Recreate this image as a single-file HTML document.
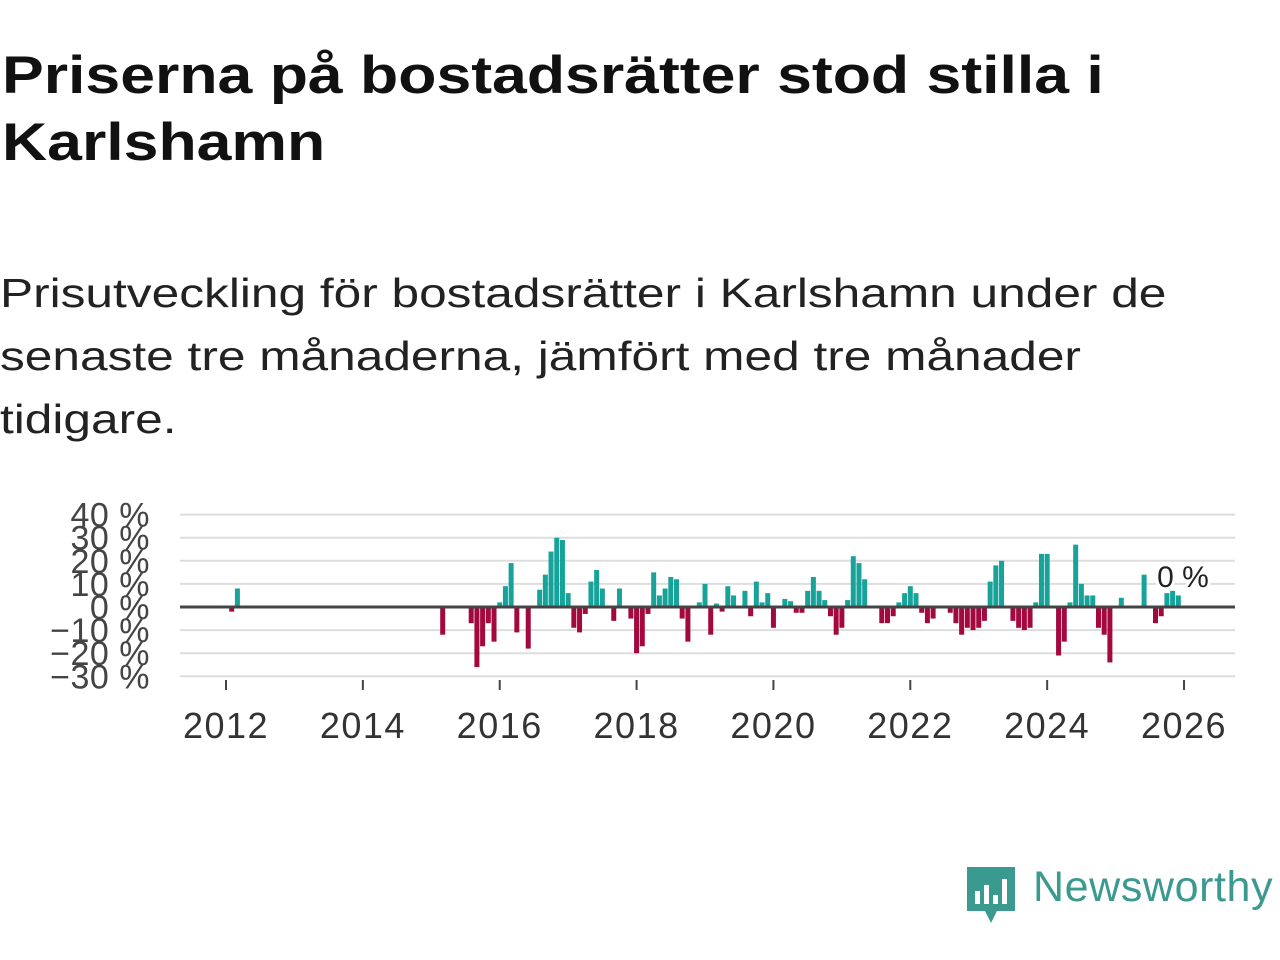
<!DOCTYPE html>
<html><head><meta charset="utf-8">
<style>
body{margin:0;width:1280px;height:960px;background:#fff;overflow:hidden;font-family:"Liberation Sans","DejaVu Sans",sans-serif;}
#title{position:absolute;left:2px;top:42px;font-size:53px;font-weight:bold;line-height:67px;color:#111;margin:0;transform:scaleX(1.18);transform-origin:0 0;white-space:nowrap;}
#subtitle{position:absolute;left:0;top:262px;font-size:41px;line-height:63px;color:#222;margin:0;transform:scaleX(1.21);transform-origin:0 0;white-space:nowrap;}
svg{position:absolute;left:0;top:0;}
</style></head><body>
<h1 id="title">Priserna på bostadsrätter stod stilla i<br>Karlshamn</h1>
<p id="subtitle">Prisutveckling för bostadsrätter i Karlshamn under de<br>senaste tre månaderna, jämfört med tre månader<br>tidigare.</p>
<svg id="chart" width="1280" height="960"></svg>
<div style="position:absolute;left:965px;top:865px;">
<svg width="52" height="62" style="position:absolute;left:0;top:0">
<path d="M2 2 H50 V46 H32 L26 58 L20 46 H2 Z" fill="#3a9a8f"/>
<rect x="10" y="26" width="5" height="13" fill="#fff"/><rect x="19" y="20" width="5" height="19" fill="#fff"/><rect x="28" y="30" width="5" height="9" fill="#fff"/><rect x="37" y="14" width="5" height="25" fill="#fff"/>
</svg>
<span style="position:absolute;left:68px;top:-2px;font-size:43px;letter-spacing:0.6px;color:#3a9a8f;white-space:nowrap">Newsworthy</span>
</div>
<script>
const monthIndex=[1,2,38,43,44,45,46,47,48,49,50,51,53,55,56,57,58,59,60,61,62,63,64,65,66,68,69,71,72,73,74,75,76,77,78,79,80,81,83,84,85,86,87,88,89,91,92,93,94,95,96,98,99,100,101,102,103,104,105,106,107,108,109,110,111,112,115,116,117,118,119,120,121,122,123,124,127,128,129,130,131,132,133,134,135,136,138,139,140,141,142,143,144,146,147,148,149,150,151,152,153,154,155,157,161,163,164,165,166,167];
const values=[-2,8,-12,-7,-26,-17,-7,-15,2,9,19,-11,-18,7.5,14,24,30,29,6,-9,-11,-3,11,16,8,-6,8,-5,-20,-17,-3,15,5,8,13,12,-5,-15,2,10,-12,1.5,-2,9,5,7,-4,11,2,6,-9,3.5,2.5,-2.5,-2.5,7,13,7,3,-4,-12,-9,3,22,19,12,-7,-7,-4,2,6,9,6,-2.5,-7,-5,-2.5,-7,-12,-9,-10,-9,-6,11,18,20,-6,-9,-10,-9,2,23,23,-21,-15,2,27,10,5,5,-9,-12,-24,4,14,-7,-4,6,7,5];
const yTicks=[40,30,20,10,0,-10,-20,-30];
const xTicks=[2012,2014,2016,2018,2020,2022,2024,2026];
const NS='http://www.w3.org/2000/svg';
const svg=document.getElementById('chart');
const X0=180,X1=1235;
function yScale(v){return 607-v*2.31;}
function xYear(y){return 226+(y-2012)*68.43;}
function xMonth(i){return 226+i*68.43/12;}
function mk(t,a){const e=document.createElementNS(NS,t);for(const k in a)e.setAttribute(k,a[k]);svg.appendChild(e);return e;}
yTicks.forEach(t=>{
 if(t!==0){const g=mk('line',{x1:X0,x2:X1,y1:yScale(t),y2:yScale(t),stroke:'#ddd','stroke-width':2});
 
 }
 const l=mk('text',{x:150,y:yScale(t)+12,'text-anchor':'end','font-size':34,'letter-spacing':0.5,fill:'#444','font-family':'Liberation Sans,sans-serif'});
 l.textContent=(t<0?'\u2212'+(-t):t)+' %';
 
 
});
values.forEach((v,k)=>{
 const x=xMonth(monthIndex[k]);
 const y=v>=0?yScale(v):yScale(0);
 const r=mk('rect',{x:x-2.5,y:y,width:5,height:Math.abs(yScale(v)-yScale(0)),fill:v>=0?'#17a39a':'#a3093e'});
 
 
});
const z=mk('line',{x1:X0,x2:X1,y1:yScale(0),y2:yScale(0),stroke:'#444','stroke-width':3});


xTicks.forEach(t=>{
 const tk=mk('line',{x1:xYear(t),x2:xYear(t),y1:680,y2:690,stroke:'#444','stroke-width':2});
 
 
 const l=mk('text',{x:xYear(t),y:738,'text-anchor':'middle','font-size':36,'letter-spacing':1.5,fill:'#333','font-family':'Liberation Sans,sans-serif'});
 l.textContent=t;
 
 
});
const lab=mk('text',{x:1183,y:587,'text-anchor':'middle','font-size':30,fill:'#222','font-family':'Liberation Sans,sans-serif',stroke:'#fff','stroke-width':6,'paint-order':'stroke'});
lab.textContent='0 %';


</script>
</body></html>
